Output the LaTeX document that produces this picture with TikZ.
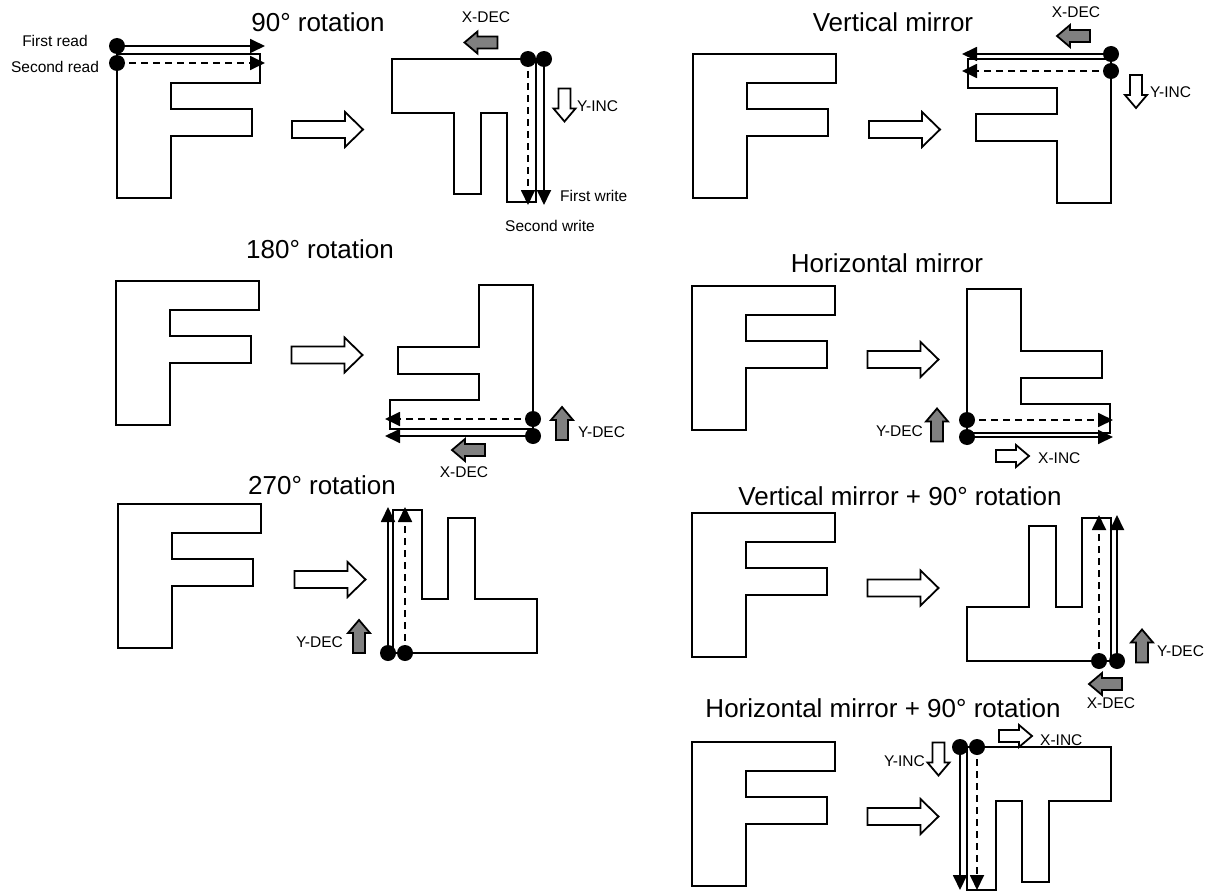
\documentclass[tikz,border=0pt]{standalone}
\usepackage{fontspec}
\setmainfont{Liberation Sans}
\usetikzlibrary{arrows.meta}

\begin{document}
\begin{tikzpicture}[x=1pt, y=-1pt,
        letter/.style={draw, line width=1.8pt, line join=miter},
        dot/.style={circle, fill=black, inner sep=0pt, minimum size=16pt},
        scan/.style={draw, line width=1.8pt, -{Triangle[length=15pt,width=14pt]}},
        scan2/.style={scan, dash pattern=on 7pt off 5pt},
        title/.style={anchor=base, inner sep=0pt, font=\fontsize{26}{30}\selectfont},
        lbl/.style={anchor=base, inner sep=0pt, font=\fontsize{15.5}{18}\selectfont},
        dec/.style={draw, line width=1.8pt, fill=black!50},
        inc/.style={draw, line width=1.8pt, fill=white},
        letterF/.pic={\draw[letter] (0,0) -- (143,0) -- (143,29) -- (54,29) -- (54,55) -- (135,55)
            -- (135,82) -- (54,82) -- (54,144) -- (0,144) -- cycle;},
        bigarrow/.pic={\path[pic actions] (-35.5,-8.5) -- (17.5,-8.5) -- (17.5,-17.5) -- (35.5,0)
            -- (17.5,17.5) -- (17.5,8.5) -- (-35.5,8.5) -- cycle;},
        smallarrow/.pic={\path[pic actions] (-16.5,-6) -- (3.5,-6) -- (3.5,-11) -- (16.5,0)
            -- (3.5,11) -- (3.5,6) -- (-16.5,6) -- cycle;}]

    \useasboundingbox (0,0) rectangle (1213,891);

    % titles
    \node[title] (t90)  at (318,32)  {90° rotation};
    \node[title] (tvm)  at (893,32)  {Vertical mirror};
    \node[title] (t180) at (320,258) {180° rotation};
    \node[title] (thm)  at (887,272) {Horizontal mirror};
    \node[title] (t270) at (322,494) {270° rotation};
    \node[title] (tvmr) at (900,505) {Vertical mirror + 90° rotation};
    \node[title] (thmr) at (883,717) {Horizontal mirror + 90° rotation};

    % source letters
    \pic at (117,54)  {letterF};
    \pic at (693,54)  {letterF};
    \pic at (116,281) {letterF};
    \pic at (692,286) {letterF};
    \pic at (118,504) {letterF};
    \pic at (692,513) {letterF};
    \pic at (692,742) {letterF};

    % big arrows
    \pic[inc] at (327.5,129.5) {bigarrow};
    \pic[inc] at (904.5,129.5) {bigarrow};
    \pic[inc] at (327,355)     {bigarrow};
    \pic[inc] at (903,359.5)   {bigarrow};
    \pic[inc] at (330,579.5)   {bigarrow};
    \pic[inc] at (903,588)     {bigarrow};
    \pic[inc] at (903,816.5)   {bigarrow};

    % results
    \draw[letter] (392,59) -- (536,59) -- (536,202) -- (507,202) -- (507,113) -- (481,113)
        -- (481,194) -- (454,194) -- (454,113) -- (392,113) -- cycle;
    \draw[letter] (1111,59) -- (968,59) -- (968,88) -- (1057,88) -- (1057,114) -- (976,114)
        -- (976,141) -- (1057,141) -- (1057,203) -- (1111,203) -- cycle;
    \draw[letter] (533,429) -- (390,429) -- (390,400) -- (479,400) -- (479,374) -- (398,374)
        -- (398,347) -- (479,347) -- (479,285) -- (533,285) -- cycle;
    \draw[letter] (967,433) -- (1110,433) -- (1110,404) -- (1021,404) -- (1021,378) -- (1102,378)
        -- (1102,351) -- (1021,351) -- (1021,289) -- (967,289) -- cycle;
    \draw[letter] (393,653) -- (393,510) -- (422,510) -- (422,599) -- (448,599) -- (448,518)
        -- (475,518) -- (475,599) -- (537,599) -- (537,653) -- cycle;
    \draw[letter] (1111,661) -- (1111,518) -- (1082,518) -- (1082,607) -- (1056,607) -- (1056,526)
        -- (1029,526) -- (1029,607) -- (967,607) -- (967,661) -- cycle;
    \draw[letter] (967,747) -- (967,890) -- (996,890) -- (996,801) -- (1022,801) -- (1022,882)
        -- (1049,882) -- (1049,801) -- (1111,801) -- (1111,747) -- cycle;

    % start points
    \node[dot] (rd1) at (117,46)  {};
    \node[dot] (rd2) at (117,63)  {};
    \node[dot] (wr2) at (528,59)  {};
    \node[dot] (wr1) at (544,59)  {};
    \node[dot] (vm1) at (1111,54) {};
    \node[dot] (vm2) at (1111,71) {};
    \node[dot] (ro2) at (533,419) {};
    \node[dot] (ro1) at (533,436) {};
    \node[dot] (hm2) at (967,420) {};
    \node[dot] (hm1) at (967,437) {};
    \node[dot] (rt1) at (388,653) {};
    \node[dot] (rt2) at (405,653) {};
    \node[dot] (vr2) at (1099,661) {};
    \node[dot] (vr1) at (1117,661) {};
    \node[dot] (hr1) at (960,747) {};
    \node[dot] (hr2) at (977,747) {};

    \coordinate (rd1e) at (265,46);
    \coordinate (rd2e) at (265,63);
    \coordinate (wr1e) at (544,205);
    \coordinate (wr2e) at (528,205);
    \coordinate (vm1e) at (962,54);
    \coordinate (vm2e) at (962,71);
    \coordinate (ro1e) at (385,436);
    \coordinate (ro2e) at (385,419);
    \coordinate (hm1e) at (1113,437);
    \coordinate (hm2e) at (1113,420);
    \coordinate (rt1e) at (388,507);
    \coordinate (rt2e) at (405,507);
    \coordinate (vr1e) at (1117,515);
    \coordinate (vr2e) at (1099,515);
    \coordinate (hr1e) at (960,890);
    \coordinate (hr2e) at (977,890);

    \path[scan]  (rd1.center) -- (rd1e);
    \path[scan2] (rd2.center) -- (rd2e);
    \path[scan]  (wr1.center) -- (wr1e);
    \path[scan2] (wr2.center) -- (wr2e);
    \path[scan]  (vm1.center) -- (vm1e);
    \path[scan2] (vm2.center) -- (vm2e);
    \path[scan]  (ro1.center) -- (ro1e);
    \path[scan2] (ro2.center) -- (ro2e);
    \path[scan]  (hm1.center) -- (hm1e);
    \path[scan2] (hm2.center) -- (hm2e);
    \path[scan]  (rt1.center) -- (rt1e);
    \path[scan2] (rt2.center) -- (rt2e);
    \path[scan]  (vr1.center) -- (vr1e);
    \path[scan2] (vr2.center) -- (vr2e);
    \path[scan]  (hr1.center) -- (hr1e);
    \path[scan2] (hr2.center) -- (hr2e);

    % direction arrows
    \pic[dec, rotate=180] at (481,42.5)   {smallarrow};
    \pic[inc, rotate=-90] at (564.5,105)  {smallarrow};
    \pic[dec, rotate=180] at (1073.5,36)  {smallarrow};
    \pic[inc, rotate=-90] at (1136,91.5)  {smallarrow};
    \pic[dec, rotate=90]  at (562,423.5)  {smallarrow};
    \pic[dec, rotate=180] at (468.5,450)  {smallarrow};
    \pic[dec, rotate=90]  at (937,425)    {smallarrow};
    \pic[inc]             at (1012.5,456) {smallarrow};
    \pic[dec, rotate=90]  at (359,636.5)  {smallarrow};
    \pic[dec, rotate=90]  at (1142,646)   {smallarrow};
    \pic[dec, rotate=180] at (1105.5,684) {smallarrow};
    \pic[inc, rotate=-90] at (938.5,759)  {smallarrow};
    \pic[inc]             at (1015.5,736) {smallarrow};

    % labels
    \node[lbl] (lfr) at (55,46.5) {First read};
    \node[lbl] (lsr) at (55,73) {Second read};
    \node[lbl, anchor=base west] (lfw) at (560,201.5) {First write};
    \node[lbl] (lsw) at (550,231.5) {Second write};
    \node[lbl] (x1) at (486,23) {X-DEC};
    \node[lbl, anchor=base west] (y1) at (577,111.5) {Y-INC};
    \node[lbl] (x2) at (1076,18) {X-DEC};
    \node[lbl, anchor=base west] (y2) at (1150,98) {Y-INC};
    \node[lbl, anchor=base west] (y3) at (578,437) {Y-DEC};
    \node[lbl] (x3) at (464,477) {X-DEC};
    \node[lbl, anchor=base east] (y4) at (923,436.5) {Y-DEC};
    \node[lbl, anchor=base west] (x4) at (1038,463) {X-INC};
    \node[lbl, anchor=base east] (y5) at (343,647) {Y-DEC};
    \node[lbl, anchor=base west] (y6) at (1157,656) {Y-DEC};
    \node[lbl] (x6) at (1111,708) {X-DEC};
    \node[lbl, anchor=base east] (y7) at (925,766.5) {Y-INC};
    \node[lbl, anchor=base west] (x7) at (1040,745) {X-INC};
\end{tikzpicture}
\end{document}
